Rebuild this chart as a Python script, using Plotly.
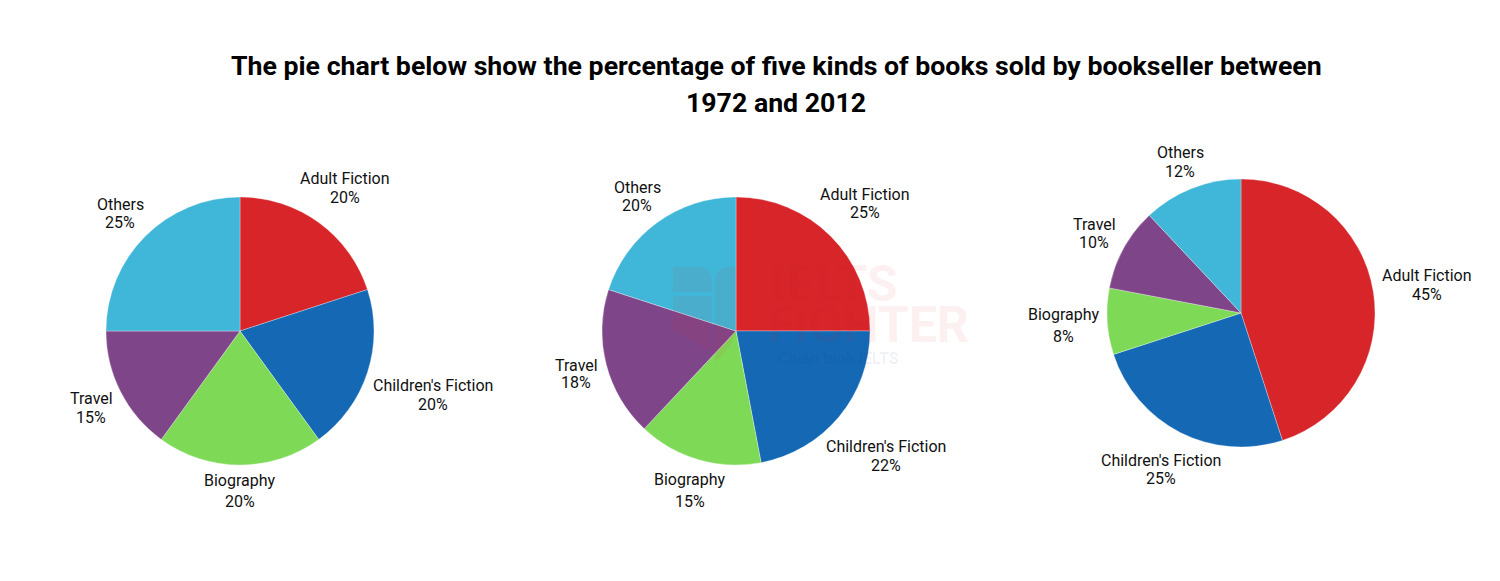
import plotly.graph_objects as go

categories = ["Adult Fiction", "Children's Fiction", "Biography", "Travel", "Others"]
values_a = [20, 20, 20, 15, 25]
values_b = [25, 22, 15, 18, 20]
values_c = [45, 25, 8, 10, 12]
colors = ["#D7252A", "#1468B4", "#7ED957", "#7F4589", "#40B7D8"]
title_lines = ["The pie chart below show the percentage of five kinds of books sold by bookseller between",
               "1972 and 2012"]

W, H = 1500, 581
R = 134
centers = [(240, 331), (736, 331), (1241, 313)]
# pixel centres of each label's (name line, value line): x, y_name, y_value
label_pos_a = [(345, 178, 197), (433, 385, 404), (240, 480, 501), (91, 398, 417), (120, 204, 222.5)]
label_pos_b = [(865, 194, 212), (886, 446, 465), (689.5, 479, 501), (576, 365, 382), (637, 187, 206)]
label_pos_c = [(1426.5, 275, 294), (1161, 460.5, 478), (1063.5, 314.5, 336), (1094, 224.5, 242), (1180, 152, 171)]

def px(x, y):
    return dict(x=x / W, y=1 - y / H, xref="paper", yref="paper")

def fx(x):
    return f"{x / W:.5f}"

def fy(y):
    return f"{1 - y / H:.5f}"

fig = go.Figure()
label_font = dict(family="Roboto", size=16, color="#111111")
for vals, (cx, cy), pos in zip([values_a, values_b, values_c], centers,
                               [label_pos_a, label_pos_b, label_pos_c]):
    fig.add_trace(go.Pie(
        labels=categories, values=vals, sort=False, direction="clockwise", rotation=0,
        marker=dict(colors=colors, line=dict(color="rgba(255,255,255,0.6)", width=0.5)),
        textinfo="none", automargin=False, showlegend=False, hoverinfo="label+percent",
        domain=dict(x=[(cx - R) / W, (cx + R) / W], y=[1 - (cy + R) / H, 1 - (cy - R) / H]),
    ))
    for name, v, (x, y1, y2) in zip(categories, vals, pos):
        fig.add_annotation(text=name, showarrow=False, xanchor="center", yanchor="middle",
                           font=label_font, **px(x, y1))
        fig.add_annotation(text=f"{v}%", showarrow=False, xanchor="center", yanchor="middle",
                           font=label_font, **px(x, y2))

for line, y in zip(title_lines, [66, 103]):
    fig.add_annotation(text=line, showarrow=False, xanchor="center", yanchor="middle",
                       font=dict(family="Roboto", size=26.7, color="#000000", weight="bold"),
                       **px(776, y))

# faint watermark
wm = "rgba(217,37,43,0.07)"
fig.add_annotation(text="<b>IELTS</b>", showarrow=False, xanchor="right", yanchor="middle",
                   font=dict(family="Roboto", size=50, color=wm), **px(900, 284))
fig.add_annotation(text="<b>FIGHTER</b>", showarrow=False, xanchor="right", yanchor="middle",
                   font=dict(family="Roboto", size=50, color=wm), **px(971, 325))
fig.add_annotation(text="<b>Chiến binh IELTS</b>", showarrow=False, xanchor="right", yanchor="middle",
                   font=dict(family="Roboto", size=16, color="rgba(20,40,130,0.07)"), **px(901, 358))
logo_paths = [
    f"M{fx(673)},{fy(267)} L{fx(698)},{fy(267)} Q{fx(712)},{fy(267)} {fx(712)},{fy(282)} L{fx(712)},{fy(292)} L{fx(673)},{fy(292)} Z",
    f"M{fx(673)},{fy(296)} L{fx(712)},{fy(296)} L{fx(712)},{fy(352)} L{fx(673)},{fy(330)} Z",
    f"M{fx(715)},{fy(282)} Q{fx(715)},{fy(267)} {fx(730)},{fy(267)} L{fx(736)},{fy(267)} L{fx(736)},{fy(331)} Q{fx(730)},{fy(350)} {fx(715)},{fy(362)} Z",
]
for p in logo_paths:
    fig.add_shape(type="path", path=p, xref="paper", yref="paper",
                  fillcolor=wm, line=dict(width=0), layer="above")

fig.update_layout(width=W, height=H, margin=dict(l=0, r=0, t=0, b=0), autosize=False,
                  paper_bgcolor="white", plot_bgcolor="white")
fig.write_html("out.html", config=dict(displayModeBar=False),
               post_script="document.body.style.margin='0';document.body.style.overflow='hidden';")
